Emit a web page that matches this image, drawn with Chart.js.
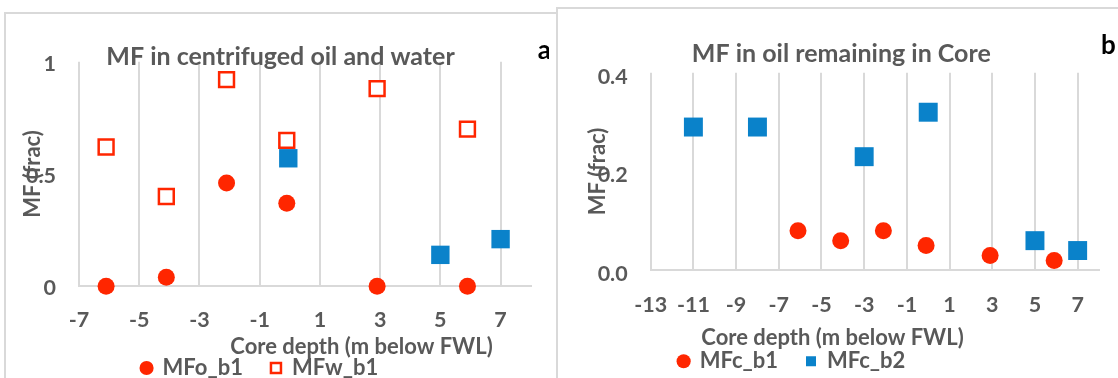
<!DOCTYPE html>
<html>
<head>
<meta charset="utf-8">
<title>MF vs core depth</title>
<script src="https://cdn.jsdelivr.net/npm/chart.js@4.4.1/dist/chart.umd.min.js"></script>
<style>
  html, body { margin: 0; padding: 0; background: #fff; }
  body { width: 1118px; height: 378px; overflow: hidden; position: relative; }
  .frame { position: absolute; border: 2px solid #d9d9d9; background: #fff; box-sizing: border-box; }
  #frameA { left: 4px; top: 12px; width: 600px; height: 420px; }
  #frameB { left: 556px; top: 7px; width: 600px; height: 420px; }
  canvas { position: absolute; }
  #chartA { left: -11px; top: 13px; }
  #chartB { left: 485px; top: 8px; }
</style>
</head>
<body>
<div class="frame" id="frameA"></div>
<canvas id="chartA" width="560" height="400"></canvas>
<div class="frame" id="frameB"></div>
<canvas id="chartB" width="640" height="400"></canvas>
<script>
// panel a: MF in centrifuged oil and water
var depthA = [-6.1, -4.1, -2.1, -0.1, 2.9, 5.9];
var mfoB1 = [0, 0.04, 0.46, 0.37, 0, 0];
var mfwB1 = [0.62, 0.40, 0.92, 0.65, 0.88, 0.70];
var depthA2 = [-0.05, 5, 7];
var mfoB2 = [0.57, 0.14, 0.21];
var xTicksA = [-7, -5, -3, -1, 1, 3, 5, 7];

// panel b: MF in oil remaining in core
var depthB1 = [-6.1, -4.1, -2.1, -0.1, 2.9, 5.9];
var mfcB1 = [0.08, 0.06, 0.08, 0.05, 0.03, 0.02];
var depthB2 = [-11, -8, -3, 0, 5, 7];
var mfcB2 = [0.29, 0.29, 0.23, 0.32, 0.06, 0.04];
var xTicksB = [-13, -11, -9, -7, -5, -3, -1, 1, 3, 5, 7];

var RED = '#ff2600';
var BLUE = '#0a82ca';
var GRID = '#d9d9d9';
var TEXT = '#595959';
var FONT = 'Lato, sans-serif';

Chart.defaults.font.family = FONT;
Chart.defaults.color = TEXT;

function points(xs, ys) {
    return xs.map(function(x, i) { return {x: x, y: ys[i]}; });
}

// titles that Excel placed freely over the plot
var overlayText = {
    id: 'overlayText',
    afterDraw: function(chart, args, opts) {
        var ctx = chart.ctx;
        (opts.items || []).forEach(function(t) {
            ctx.save();
            ctx.font = t.font;
            ctx.fillStyle = t.color;
            ctx.textAlign = 'center';
            ctx.textBaseline = 'alphabetic';
            ctx.fillText(t.text, t.x, t.y);
            ctx.restore();
        });
    }
};

function xScale(ticks, min, max, height, pad) {
    return {
        type: 'linear',
        min: min,
        max: max,
        afterBuildTicks: function(s) { s.ticks = ticks.map(function(v) { return {value: v}; }); },
        afterFit: function(s) { s.height = height; },
        grid: { color: GRID, lineWidth: 2, drawTicks: false },
        border: { color: GRID, width: 2 },
        ticks: { color: TEXT, font: { size: 21.5, weight: 'bold' }, padding: pad, maxRotation: 0, autoSkip: false }
    };
}

function yScale(max, step, width, titlePad, labelOffset, fmt) {
    return {
        type: 'linear',
        min: 0,
        max: max,
        afterFit: function(s) { s.width = width; },
        grid: { display: false, drawTicks: false },
        border: { display: false },
        ticks: { stepSize: step, padding: 23, labelOffset: labelOffset, color: TEXT,
                 font: { size: 21.5, weight: 'bold' }, callback: fmt },
        title: { display: true, text: 'MF (frac)', color: TEXT, font: { size: 22, weight: 'bold' },
                 padding: { top: titlePad, bottom: 0 } }
    };
}

function legendOpts(hidden) {
    return {
        position: 'bottom',
        labels: {
            usePointStyle: true, boxWidth: 10, boxHeight: 10, padding: 28, color: TEXT,
            font: { size: 22, weight: 'bold' },
            filter: function(item) { return hidden.indexOf(item.text) < 0; }
        }
    };
}

new Chart(document.getElementById('chartA'), {
    type: 'scatter',
    data: {
        datasets: [
            { label: 'MFo_b1', data: points(depthA, mfoB1), pointStyle: 'circle', pointRadius: 8.5,
              backgroundColor: RED, borderColor: RED, borderWidth: 0, clip: false },
            { label: 'MFw_b1', data: points(depthA, mfwB1), pointStyle: 'rect', pointRadius: 10.5,
              backgroundColor: '#fff', borderColor: RED, borderWidth: 2.5, clip: false },
            { label: 'MFo_b2', data: points(depthA2, mfoB2), pointStyle: 'rect', pointRadius: 13,
              backgroundColor: BLUE, borderColor: BLUE, borderWidth: 0, clip: false }
        ]
    },
    options: {
        responsive: false,
        animation: false,
        events: [],
        layout: { padding: { left: 0, right: 18.3, top: 48.7, bottom: 24 } },
        scales: {
            x: xScale(xTicksA, -7, 8, 42.7, 20.5),
            y: yScale(1, 0.5, 90, 30.8, 2, undefined)
        },
        plugins: {
            legend: legendOpts(['MFo_b2']),
            tooltip: { enabled: false },
            overlayText: { items: [
                { text: 'MF in centrifuged oil and water', x: 291.5, y: 52, font: 'bold 25px ' + FONT, color: TEXT },
                { text: 'a', x: 555.3, y: 46.3, font: 'bold 26px ' + FONT, color: '#000' },
                { text: 'Core depth (m below FWL)', x: 372.5, y: 340.5, font: 'bold 22px ' + FONT, color: TEXT }
            ] }
        }
    },
    plugins: [overlayText]
});

new Chart(document.getElementById('chartB'), {
    type: 'scatter',
    data: {
        datasets: [
            { label: 'MFc_b1', data: points(depthB1, mfcB1), pointStyle: 'circle', pointRadius: 8.5,
              backgroundColor: RED, borderColor: RED, borderWidth: 0, clip: false },
            { label: 'MFc_b2', data: points(depthB2, mfcB2), pointStyle: 'rect', pointRadius: 13.4,
              backgroundColor: BLUE, borderColor: BLUE, borderWidth: 0, clip: false }
        ]
    },
    options: {
        responsive: false,
        animation: false,
        events: [],
        layout: { padding: { left: 0, right: 26, top: 64.7, bottom: 25.7 } },
        scales: {
            x: xScale(xTicksB, -13, 8, 52, 21.5),
            y: yScale(0.4, 0.2, 165.7, 99.8, 4, function(v) { return Number(v).toFixed(1); })
        },
        plugins: {
            legend: legendOpts([]),
            tooltip: { enabled: false },
            overlayText: { items: [
                { text: 'MF in oil remaining in Core', x: 356.3, y: 53.7, font: 'bold 25px ' + FONT, color: TEXT },
                { text: 'b', x: 623.5, y: 46, font: 'bold 26px ' + FONT, color: '#000' },
                { text: 'Core depth (m below FWL)', x: 347.5, y: 337.3, font: 'bold 22px ' + FONT, color: TEXT }
            ] }
        }
    },
    plugins: [overlayText]
});
</script>
</body>
</html>
